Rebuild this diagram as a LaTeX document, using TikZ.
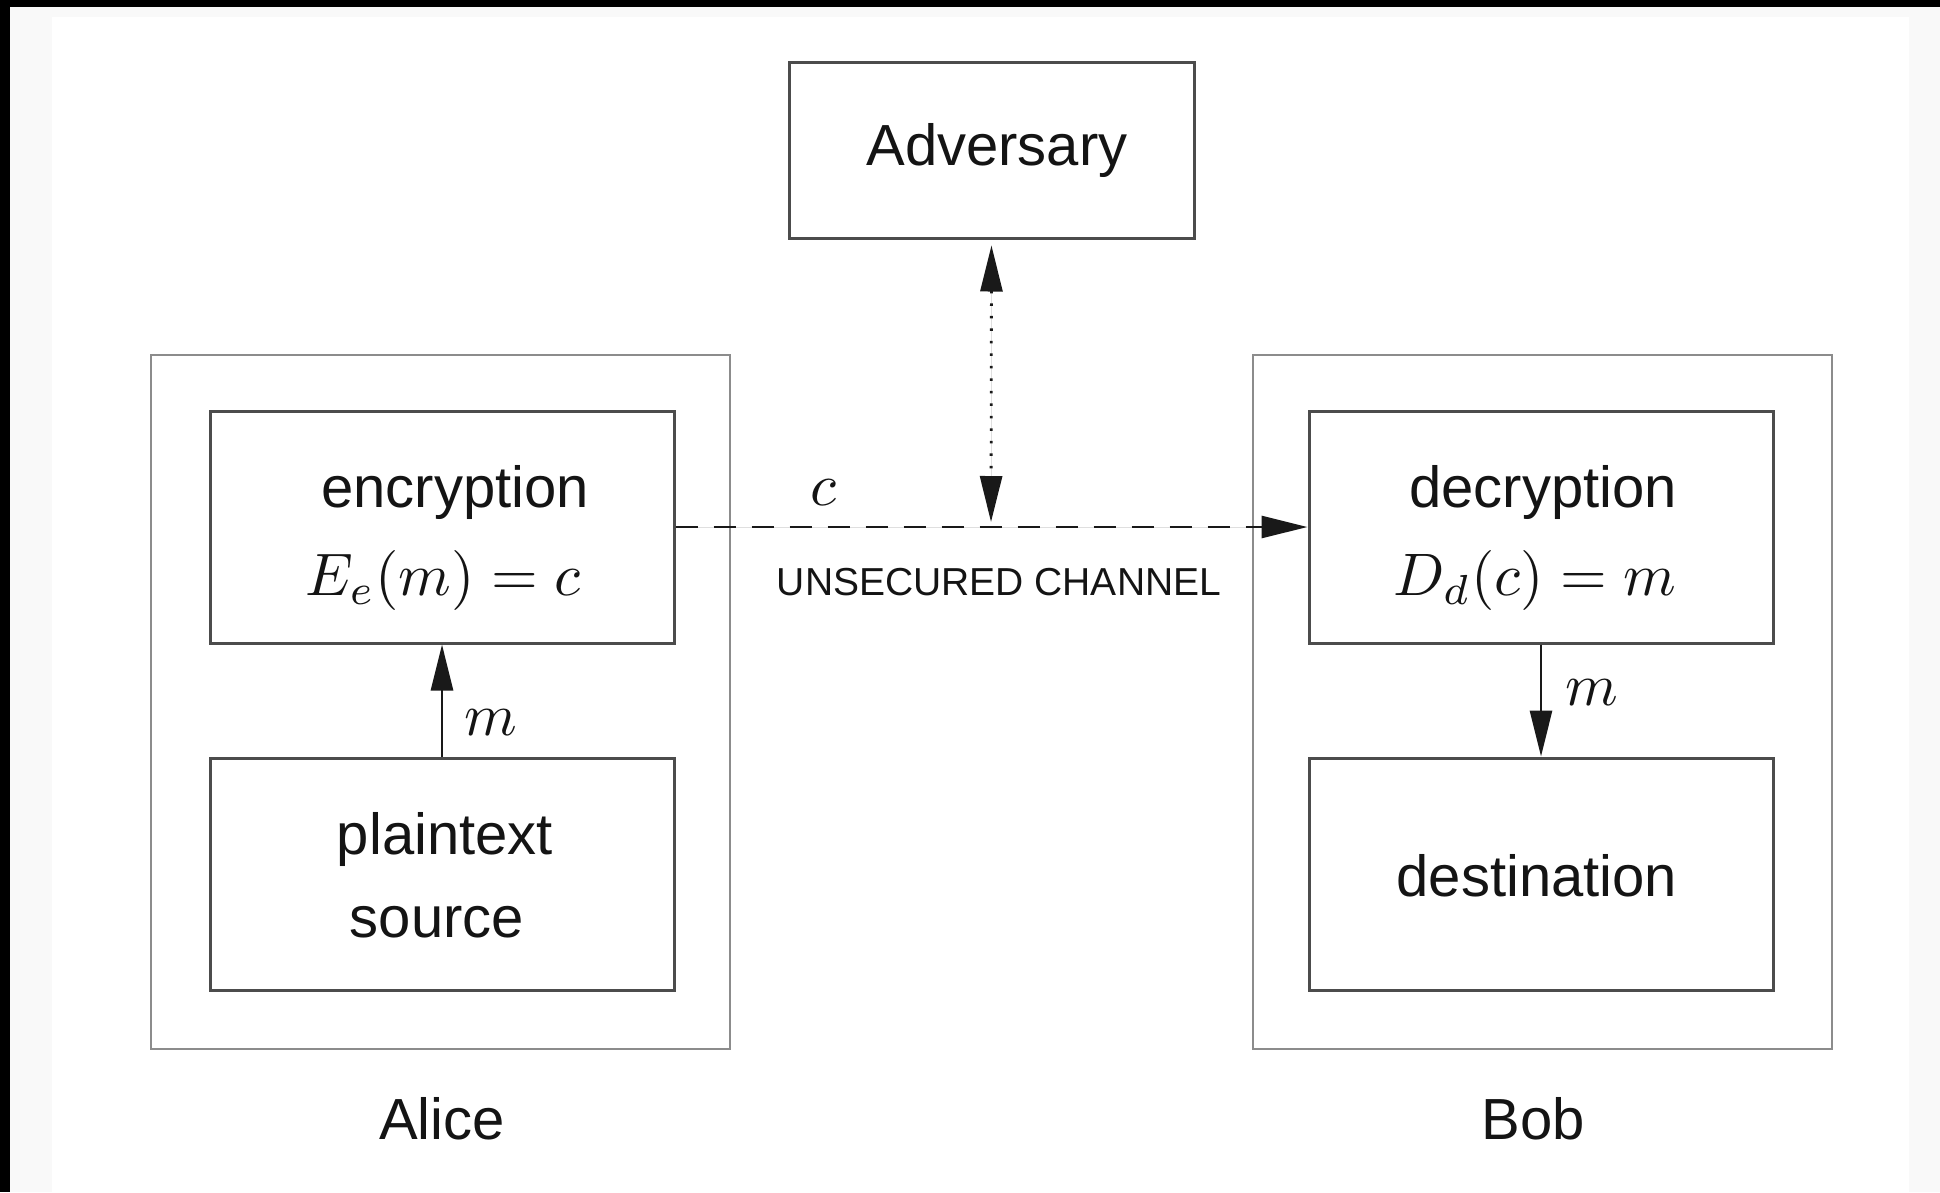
\documentclass[tikz,border=0pt]{standalone}
\usepackage{graphicx}
\usepackage{fontspec}
\setmainfont{Liberation Sans}
\usetikzlibrary{arrows.meta}
\definecolor{pagegray}{HTML}{F9F9F9}
\definecolor{inkc}{HTML}{141414}
\newcommand{\bigmath}[1]{\scalebox{6}{$#1$}}
\tikzset{
  inbox/.style={draw=black!70, line width=3pt, minimum width=464pt, minimum height=232pt, inner sep=0pt},
  outbox/.style={draw=black!45, line width=2pt, minimum width=579pt, minimum height=694pt, inner sep=0pt},
  advbox/.style={draw=black!70, line width=3pt, minimum width=405pt, minimum height=176pt, inner sep=0pt},
  big/.style={font=\fontsize{58}{70}\selectfont, text=inkc, anchor=base, inner sep=0pt},
  mathtxt/.style={text=inkc, anchor=base, inner sep=0pt},
  small/.style={font=\fontsize{39}{46}\selectfont, text=inkc, anchor=base, inner sep=0pt},
  tip/.style={-{Triangle[length=46pt,width=22pt]}},
  conn/.style={line width=2.8pt, draw=black!90, fill=black}
}
\begin{document}
\begin{tikzpicture}[x=1pt,y=-1pt]
\useasboundingbox (0,0) rectangle (1940,1192);
% page background
\fill[black] (0,0) rectangle (1940,1192);
\fill[pagegray] (10,7) rectangle (1940,1192);
\fill[white] (52,17) rectangle (1909,1192);

% boxes
\node[outbox] (alice) at (440.5,702) {};
\node[outbox] (bob) at (1542.5,702) {};
\node[advbox] (adv) at (991.5,150) {};
\node[inbox] (enc) at (442,527) {};
\node[inbox] (plain) at (442,874) {};
\node[inbox] (dec) at (1541,527) {};
\node[inbox] (dest) at (1541,874) {};

% texts
\node[big] (tadv) at (997,165) {Adversary};
\node[big] (tenc) at (455,507) {encryption};
\node[mathtxt] (menc) at (443,595) {\bigmath{E_e(m) = c}};
\node[big] (tplain) at (445,854) {plaintext};
\node[big] (tsrc) at (437,937) {source};
\node[big] (tdec) at (1543,507) {decryption};
\node[mathtxt] (mdec) at (1535,595) {\bigmath{D_d(c) = m}};
\node[big] (tdest) at (1537,896) {destination};
\node[big] (talice) at (442,1139) {Alice};
\node[big] (tbob) at (1533,1139) {Bob};
\node[small] (tchan) at (999,595) {UNSECURED CHANNEL};
\node[mathtxt] (lc) at (823,505) {\bigmath{c}};
\node[mathtxt] (lm1) at (491,735) {\bigmath{m}};
\node[mathtxt] (lm2) at (1592,705) {\bigmath{m}};

% connectors
\draw[conn, tip] (plain.north) -- (enc.south);
\draw[conn, tip] (dec.south) -- (dest.north);
\draw[conn, tip, dash pattern=on 22pt off 16pt] (enc.east) -- (dec.west);
\coordinate (chan) at (991,527);
\draw[conn, {Triangle[length=46pt,width=22pt]}-{Triangle[length=46pt,width=22pt]}, dash pattern=on 2.5pt off 10pt, shorten <=6pt, shorten >=5pt] (adv.south) -- (chan);
\end{tikzpicture}
\end{document}
